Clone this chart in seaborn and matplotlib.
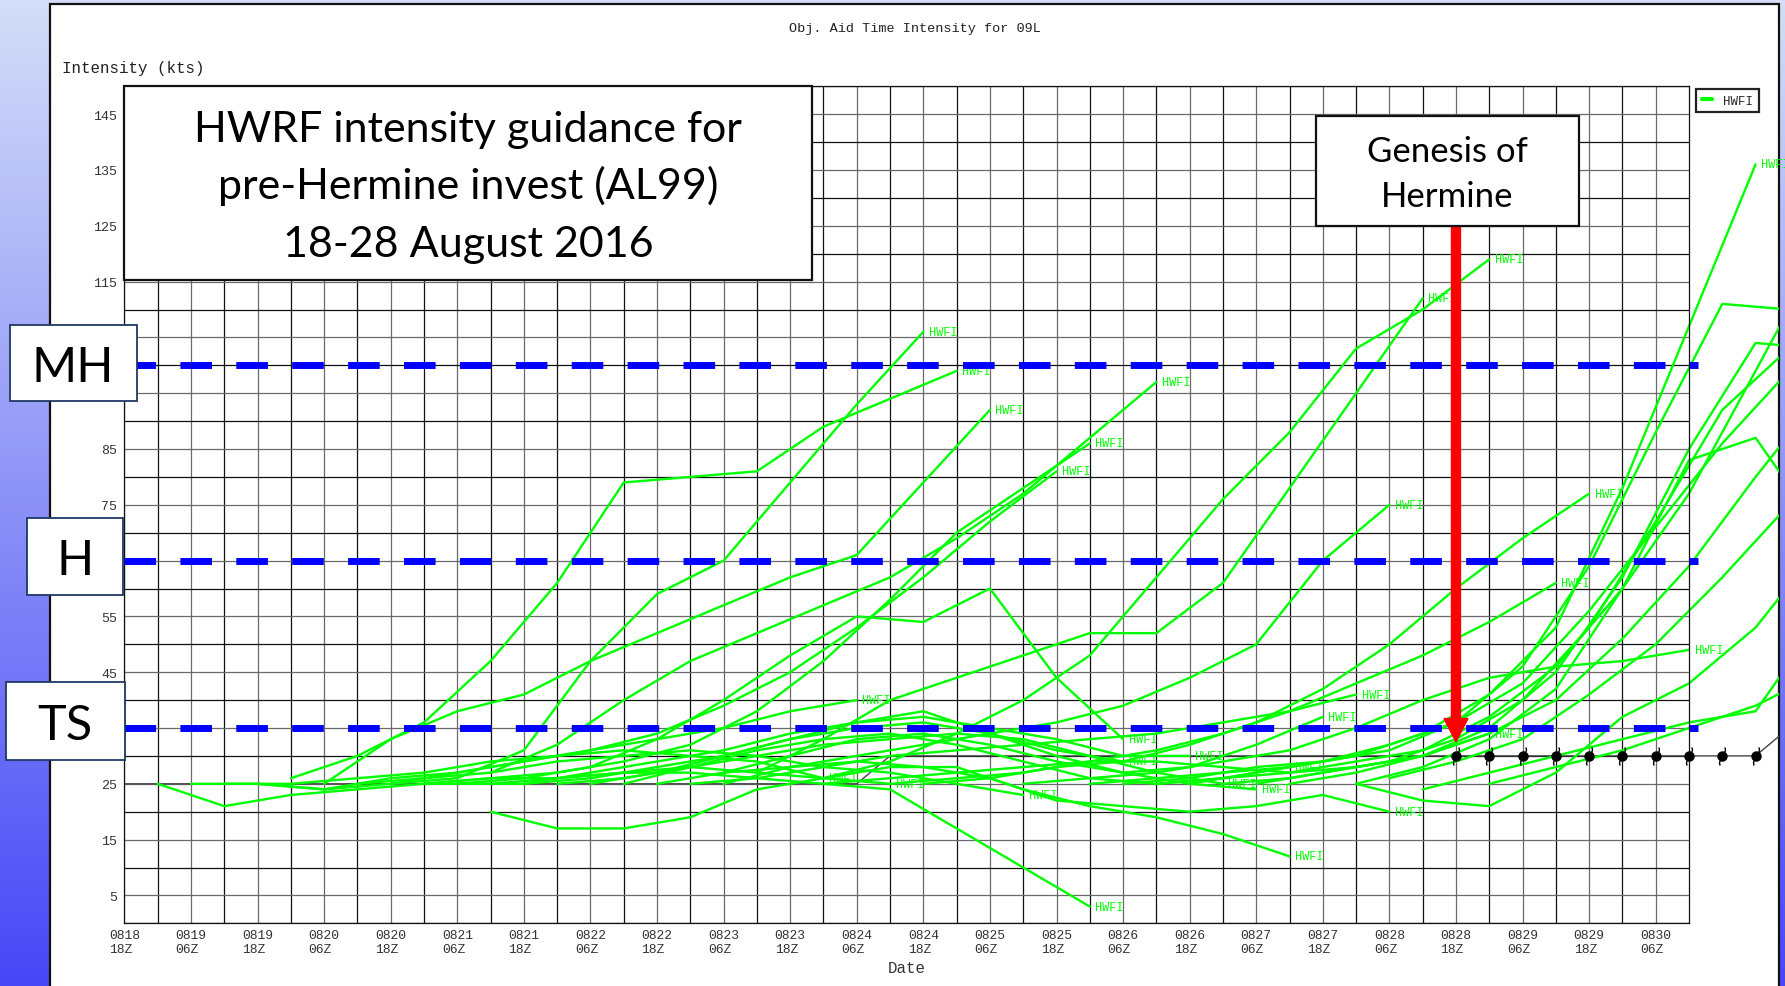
import matplotlib
matplotlib.use("Agg")
import matplotlib.pyplot as plt
import matplotlib.dates as mdates
import numpy as np
import pandas as pd
import seaborn as sns
from matplotlib.lines import Line2D
from matplotlib.patches import Rectangle
from matplotlib.path import Path
from matplotlib.ticker import FixedLocator
from matplotlib.transforms import Bbox, TransformedBbox


FIG_W, FIG_H = 1785, 987
BASE_TIME = pd.Timestamp("2016-08-18 18:00")
X_END_HOURS = 282
LABEL_LAST_HOUR = 294
STEP_HOURS = 12
GREEN = "#00ff00"
MONO = "Liberation Mono"
SANS = "Lato"

# HWFI runs: start hour (after 0818 18Z) and intensity (kts) every 12 h
RUN_START_HOURS = [6, 12, 18, 24, 30, 36, 42, 48, 54, 54, 60, 60, 66, 66, 72, 78,
                   84, 90, 96, 102, 108, 108, 114, 126, 126, 138, 144, 162, 174,
                   180, 186, 192, 198, 204, 210, 222, 222, 228, 234, 246]
run_01 = [25, 21, 23, 24, 25, 26, 26, 27, 28, 27, 26]
run_02 = [25, 25, 24, 26, 27, 29, 31, 33, 35, 38, 40]
run_03 = [25, 25, 26, 27, 29, 30, 31, 30, 29, 26, 25]
run_04 = [25, 24, 25, 26, 31, 47, 59, 65, 79, 93, 106]
run_05 = [26, 30, 36, 47, 61, 79, 80, 81, 89, 94, 99]
run_06 = [25, 33, 38, 41, 47, 52, 57, 62, 66, 79, 92]
run_07 = [25, 26, 27, 29, 30, 31, 30, 28, 27, 25, 23]
run_08 = [25, 27, 29, 31, 34, 39, 45, 53, 62, 72, 81]
run_09 = [25, 26, 27, 29, 32, 38, 47, 58, 70, 78, 86]
run_10 = [25, 25, 26, 27, 27, 26, 25, 24, 17, 10, 3]
run_11 = [25, 26, 28, 33, 40, 48, 55, 54, 60, 44, 33]
run_12 = [25, 25, 26, 28, 30, 33, 36, 38, 34, 31, 29]
run_13 = [27, 32, 40, 47, 52, 57, 62, 69, 77, 87, 97]
run_14 = [20, 17, 17, 19, 24, 26, 28, 28, 24, 21, 19, 16, 12]
run_15 = [25, 27, 29, 31, 34, 36, 37, 35, 33, 30, 30]
run_16 = [25, 26, 28, 30, 32, 33, 34, 33, 30, 27, 25]
run_17 = [25, 27, 30, 33, 35, 36, 34, 30, 27, 25, 24]
run_18 = [25, 28, 31, 33, 34, 32, 29, 26, 25, 26, 28]
run_19 = [25, 27, 30, 33, 34, 32, 29, 27, 28, 32, 37]
run_20 = [25, 26, 28, 30, 31, 32, 33, 34, 36, 38, 41]
run_21 = [25, 28, 30, 32, 34, 36, 39, 44, 50, 65, 75]
run_22 = [27, 28, 29, 28, 26, 22, 21, 20, 21, 23, 20]
run_23 = [27, 33, 40, 44, 48, 52, 52, 61, 78, 95, 112]
run_24 = [26, 29, 34, 40, 48, 62, 76, 88, 103, 110, 119]
run_25 = [25, 26, 27, 28, 29, 29, 28, 27, 28, 30, 34]
run_26 = [25, 26, 27, 29, 31, 34, 38, 43, 48, 54, 61]
run_27 = [25, 26, 28, 29, 32, 36, 42, 50, 60, 69, 77]
run_28 = [25, 26, 27, 29, 31, 35, 40, 44, 46, 47, 49]
run_29 = [25, 26, 27, 28, 30, 34, 41, 53, 78, 107, 136]
run_30 = [25, 26, 28, 29, 31, 36, 46, 64, 88, 111, 110]
run_31 = [25, 26, 27, 29, 31, 37, 46, 60, 77, 99, 121]
run_32 = [25, 27, 29, 32, 36, 43, 56, 71, 86, 99]
run_33 = [25, 26, 28, 30, 35, 45, 62, 85, 104, 103]
run_34 = [25, 27, 29, 33, 40, 53, 72, 92, 103, 110]
run_35 = [25, 27, 30, 34, 40, 51, 64, 80, 95]
run_36 = [25, 28, 33, 42, 60, 83, 87, 70]
run_37 = [25, 22, 21, 27, 37, 43, 53, 68]
run_38 = [26, 29, 33, 41, 50, 62, 75]
run_39 = [24, 27, 30, 33, 36, 38, 55]
run_40 = [25, 28, 31, 35, 39, 45]

# best track
BT_HOURS = [0, 132, 138, 294, 300]
BT_KTS = [25, 25, 30, 30, 35]
SYMBOL_HOURS = [240, 246, 252, 258, 264, 270, 276, 282, 288, 294]
SYMBOL_KTS = [30, 30, 30, 30, 30, 30, 30, 30, 30, 30]

# intensity thresholds
THRESHOLD_NAMES = ["MH", "H", "TS"]
THRESHOLD_KTS = [100, 65, 35]

GENESIS_HOURS = 240
GENESIS_TIP_KTS = 32.5
GENESIS_TOP_KTS = 125


def fig_rect(x0, y0, x1, y1):
    """Pixel box (top-left origin) to figure fraction rectangle."""
    return x0 / FIG_W, 1 - y1 / FIG_H, (x1 - x0) / FIG_W, (y1 - y0) / FIG_H


def add_box(fig, x0, y0, x1, y1, edge, lw, zorder=6):
    left, bottom, width, height = fig_rect(x0, y0, x1, y1)
    fig.add_artist(Rectangle((left, bottom), width, height, transform=fig.transFigure,
                             facecolor="white", edgecolor=edge, linewidth=lw, zorder=zorder))


def add_text(fig, x, y, s, size, **kw):
    fig.text(x / FIG_W, 1 - y / FIG_H, s, fontsize=size, zorder=7, **kw)


def hours_to_time(hours):
    return BASE_TIME + pd.to_timedelta(np.asarray(hours, dtype=float), unit="h")


def storm_marker() -> Path:
    verts = [(0.0, 0.3), (0.5, 0.55), (0.25, 1.0),
             (0.0, -0.3), (-0.5, -0.55), (-0.25, -1.0)]
    codes = [Path.MOVETO, Path.CURVE3, Path.CURVE3,
             Path.MOVETO, Path.CURVE3, Path.CURVE3]
    return Path(verts, codes)


def main() -> None:
    sns.set_theme(style="white")
    plt.rcParams["font.family"] = [MONO, "DejaVu Sans Mono"]

    runs = [run_01, run_02, run_03, run_04, run_05, run_06, run_07, run_08, run_09, run_10,
            run_11, run_12, run_13, run_14, run_15, run_16, run_17, run_18, run_19, run_20,
            run_21, run_22, run_23, run_24, run_25, run_26, run_27, run_28, run_29, run_30,
            run_31, run_32, run_33, run_34, run_35, run_36, run_37, run_38, run_39, run_40]

    frames = []
    for run_id, (start, kts) in enumerate(zip(RUN_START_HOURS, runs)):
        hours = start + STEP_HOURS * np.arange(len(kts))
        frames.append(pd.DataFrame({"run": run_id, "time": hours_to_time(hours), "kts": kts}))
    df = pd.concat(frames, ignore_index=True)

    fig = plt.figure(figsize=(FIG_W / 100, FIG_H / 100), dpi=100)
    fig.patch.set_facecolor("white")

    # slide background gradient
    bg = fig.add_axes([0, 0, 1, 1], zorder=-2)
    top = np.array([0.83, 0.87, 0.97])
    bottom = np.array([0.28, 0.28, 0.97])
    frac = np.linspace(0, 1, 256)[:, None]
    grad = (top * (1 - frac) + bottom * frac)[:, None, :]
    bg.imshow(grad, aspect="auto", extent=[0, 1, 0, 1])
    bg.axis("off")

    panel_left, panel_right, panel_top = 50, 1779, 5
    left, bottom_f, width, height = fig_rect(panel_left, panel_top, panel_right, FIG_H + 3)
    fig.add_artist(Rectangle((left, bottom_f), width, height, transform=fig.transFigure,
                             facecolor="white", edgecolor="#111111", linewidth=1.6, zorder=-1))

    ax = fig.add_axes(fig_rect(124.4, 87.3, 1689, 924.3))
    panel_clip = TransformedBbox(
        Bbox.from_extents(panel_left / FIG_W, 0, panel_right / FIG_W, 1 - panel_top / FIG_H),
        fig.transFigure)

    sns.lineplot(data=df, x="time", y="kts", units="run", estimator=None, sort=False,
                 color=GREEN, linewidth=1.7, legend=False, ax=ax, zorder=2)
    for line in ax.lines:
        line.set_clip_box(panel_clip)

    # HWFI labels at run ends (runs that leave the panel carry no visible label)
    for start, kts in zip(RUN_START_HOURS, runs):
        end_hour = start + STEP_HOURS * (len(kts) - 1)
        if end_hour > LABEL_LAST_HOUR:
            continue
        txt = ax.text(hours_to_time([end_hour + 1.0])[0], kts[-1], "HWFI", color=GREEN,
                      fontsize=8.6, family=MONO, va="center", ha="left", zorder=2)
        txt.set_clip_box(panel_clip)

    # best track
    bt_line, = ax.plot(hours_to_time(BT_HOURS), BT_KTS, color="#444444", linewidth=1.0, zorder=1.9)
    bt_line.set_clip_box(panel_clip)
    dots, = ax.plot(hours_to_time(SYMBOL_HOURS), SYMBOL_KTS, linestyle="none", marker="o",
                    markersize=6.5, color="black", zorder=3)
    hooks, = ax.plot(hours_to_time(SYMBOL_HOURS), SYMBOL_KTS, linestyle="none",
                     marker=storm_marker(), markersize=13, markerfacecolor="none",
                     markeredgecolor="black", markeredgewidth=1.0, zorder=3)
    for art in (dots, hooks):
        art.set_clip_box(panel_clip)

    # category thresholds
    dash_end = hours_to_time([283.6])[0]
    for kts in THRESHOLD_KTS:
        thr, = ax.plot([BASE_TIME, dash_end], [kts, kts], color="#0000ff", linewidth=5.0,
                       dashes=(4.55, 3.5), dash_capstyle="butt", zorder=4)
        thr.set_clip_box(panel_clip)

    # genesis arrow
    x_gen = mdates.date2num(hours_to_time([GENESIS_HOURS])[0])
    px_per_day = (1689 - 124.4) / (X_END_HOURS / 24)
    ax.arrow(x_gen, GENESIS_TOP_KTS, 0, GENESIS_TIP_KTS - GENESIS_TOP_KTS,
             width=9 / px_per_day, head_width=24 / px_per_day, head_length=4.2,
             length_includes_head=True, color="#ff0000", zorder=5, clip_on=False)

    # axes, grid and ticks
    ax.set_xlim(BASE_TIME, hours_to_time([X_END_HOURS])[0])
    ax.set_ylim(0, 150)
    major_times = hours_to_time(np.arange(0, X_END_HOURS, 12))
    major_labels = [t.strftime("%m%d\n%HZ") for t in major_times]
    ax.set_xticks(major_times)
    ax.set_xticklabels(major_labels)
    for lab in ax.get_xticklabels():
        lab.set_multialignment("left")
    ax.xaxis.set_minor_locator(FixedLocator(mdates.date2num(hours_to_time(np.arange(6, X_END_HOURS, 12)))))
    ax.yaxis.set_major_locator(FixedLocator(np.arange(5, 150, 10)))
    ax.yaxis.set_minor_locator(FixedLocator(np.arange(0, 151, 10)))
    ax.grid(which="major", color="#6a6a6a", linewidth=0.9)
    ax.grid(which="minor", color="#111111", linewidth=0.9)
    ax.set_axisbelow(True)
    ax.tick_params(which="both", length=0)
    ax.tick_params(axis="y", pad=5, labelsize=9.6, labelcolor="#333333")
    ax.tick_params(axis="x", pad=4, labelsize=9.4, labelcolor="#333333")
    for side in ax.spines.values():
        side.set_visible(True)
        side.set_color("#111111")
        side.set_linewidth(0.9)
    ax.set_xlabel("Date", fontsize=11.3, color="#333333", labelpad=4)
    ax.set_ylabel("")

    legend = ax.legend(handles=[Line2D([0], [0], color=GREEN, linewidth=3)], labels=["HWFI"],
                       loc="upper left", bbox_to_anchor=(1696 / FIG_W, 1 - 90 / FIG_H),
                       bbox_transform=fig.transFigure, frameon=True, fancybox=False,
                       framealpha=1, edgecolor="#222222", handlelength=0.8,
                       handletextpad=0.9, borderpad=0.45, borderaxespad=0,
                       prop={"family": MONO, "size": 9})
    legend.get_frame().set_linewidth(1.6)

    add_text(fig, 914.5, 29, "Obj. Aid Time Intensity for 09L", 9.7, ha="center", va="center",
             color="#222222", family=MONO)
    add_text(fig, 62, 68, "Intensity (kts)", 11.4, ha="left", va="center",
             color="#222222", family=MONO)

    # slide overlays
    add_box(fig, 124.4, 87.3, 811.6, 281, "#111111", 1.6)
    title_lines = ["HWRF intensity guidance for", "pre-Hermine invest (AL99)", "18-28 August 2016"]
    for s, y in zip(title_lines, [141.7, 199.5, 256.7]):
        add_text(fig, 468, y, s, 31, ha="center", va="baseline", family=SANS, color="black")

    add_box(fig, 1316, 117, 1579, 227, "#111111", 1.6)
    for s, y in zip(["Genesis of", "Hermine"], [161.7, 206.7]):
        add_text(fig, 1447.5, y, s, 25, ha="center", va="baseline", family=SANS, color="black")

    cat_boxes = [(10, 326, 137, 402, 73, 382), (27, 519, 123, 596, 75, 575), (6, 683, 125, 761, 65, 740)]
    for name, (x0, y0, x1, y1, tx, ty) in zip(THRESHOLD_NAMES, cat_boxes):
        add_box(fig, x0, y0, x1, y1, "#1f3864", 1.3)
        add_text(fig, tx, ty, name, 35, ha="center", va="baseline", family=SANS, color="black")

    fig.savefig("out.png", dpi=100)
    plt.close(fig)


if __name__ == "__main__":
    main()
